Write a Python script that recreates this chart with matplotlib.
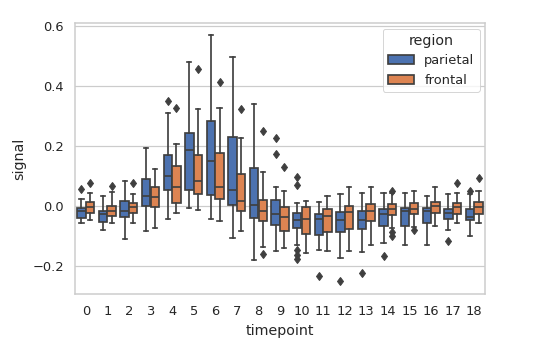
import matplotlib
matplotlib.use("Agg")
import matplotlib.pyplot as plt
from matplotlib.patches import Patch

timepoints = list(range(19))
regions = ["parietal", "frontal"]

# per-timepoint box stats: (whislo, q1, median, q3, whishi)
parietal_stats = [
    (-0.057, -0.041, -0.015, -0.008, 0.023),
    (-0.080, -0.052, -0.028, -0.015, 0.033),
    (-0.109, -0.035, -0.015, 0.017, 0.083),
    (-0.083, 0.001, 0.033, 0.090, 0.193),
    (-0.043, 0.053, 0.100, 0.171, 0.310),
    (-0.006, 0.053, 0.188, 0.244, 0.480),
    (-0.043, 0.036, 0.149, 0.283, 0.569),
    (-0.105, 0.003, 0.053, 0.230, 0.497),
    (-0.179, -0.039, 0.003, 0.128, 0.340),
    (-0.149, -0.063, -0.028, 0.020, 0.062),
    (-0.129, -0.072, -0.046, -0.024, 0.011),
    (-0.146, -0.096, -0.044, -0.028, 0.014),
    (-0.173, -0.088, -0.046, -0.021, 0.039),
    (-0.154, -0.075, -0.046, -0.017, 0.045),
    (-0.124, -0.066, -0.028, -0.010, 0.045),
    (-0.129, -0.066, -0.015, -0.008, 0.042),
    (-0.129, -0.055, -0.015, -0.008, 0.034),
    (-0.080, -0.043, -0.024, -0.010, 0.039),
    (-0.099, -0.046, -0.035, -0.010, 0.039),
]
frontal_stats = [
    (-0.046, -0.022, -0.004, 0.014, 0.042),
    (-0.055, -0.033, -0.015, 0.000, 0.048),
    (-0.055, -0.024, -0.004, 0.009, 0.039),
    (-0.072, -0.002, 0.031, 0.062, 0.125),
    (-0.024, 0.011, 0.064, 0.134, 0.208),
    (-0.013, 0.039, 0.083, 0.169, 0.322),
    (-0.050, 0.023, 0.062, 0.177, 0.327),
    (-0.083, -0.017, 0.017, 0.108, 0.227),
    (-0.135, -0.050, -0.015, 0.020, 0.112),
    (-0.140, -0.083, -0.038, -0.002, 0.050),
    (-0.157, -0.093, -0.044, -0.004, 0.018),
    (-0.149, -0.087, -0.032, -0.010, 0.034),
    (-0.149, -0.076, -0.021, 0.000, 0.062),
    (-0.129, -0.049, -0.015, 0.006, 0.062),
    (-0.074, -0.030, -0.011, 0.006, 0.042),
    (-0.069, -0.027, -0.010, 0.009, 0.050),
    (-0.065, -0.024, 0.000, 0.014, 0.062),
    (-0.055, -0.027, -0.004, 0.011, 0.042),
    (-0.057, -0.027, -0.002, 0.014, 0.050),
]
parietal_fliers = [
    [0.058], [], [], [], [0.351], [], [], [], [], [0.228, 0.172],
    [0.097, 0.070, -0.146, -0.163, -0.177], [-0.234], [-0.251], [-0.223],
    [-0.168], [], [], [-0.118], [0.050],
]
frontal_fliers = [
    [0.077], [0.066], [0.077], [], [0.327], [0.456], [0.412], [0.322],
    [0.250, -0.160], [0.130], [], [], [], [], [0.051, -0.085, -0.100],
    [-0.080], [], [0.078], [0.092],
]

colors = ["#4C72B0", "#DD8452"]
edge = "#3f3f3f"
text_color = "#262626"
grid_color = "#cccccc"
lw = 1.7

plt.rcParams["font.family"] = "DejaVu Sans"

fig = plt.figure(figsize=(534 / 72, 358 / 72), dpi=72)
ax = fig.add_axes([75 / 534, 1 - 294 / 358, 410 / 534, (294 - 23.3) / 358])

for k, (stats, fliers) in enumerate([(parietal_stats, parietal_fliers),
                                      (frontal_stats, frontal_fliers)]):
    boxes = []
    for s, f in zip(stats, fliers):
        lo, q1, med, q3, hi = s
        boxes.append(dict(whislo=lo, q1=q1, med=med, q3=q3, whishi=hi, fliers=f))
    pos = [t - 0.2 + 0.4 * k for t in timepoints]
    ax.bxp(boxes, positions=pos, widths=0.39, patch_artist=True,
           showcaps=True, manage_ticks=False,
           boxprops=dict(facecolor=colors[k], edgecolor=edge, linewidth=lw),
           medianprops=dict(color=edge, linewidth=lw),
           whiskerprops=dict(color=edge, linewidth=lw),
           capprops=dict(color=edge, linewidth=lw),
           flierprops=dict(marker="d", markerfacecolor=edge, markeredgecolor=edge,
                           markersize=6))

ax.set_xlim(-0.5, 18.5)
ax.set_ylim(-0.293, 0.609)
ax.set_xticks(timepoints)
ax.set_xticklabels([str(t) for t in timepoints])
ax.set_yticks([-0.2, 0.0, 0.2, 0.4, 0.6])
ax.set_yticklabels(["\u22120.2", "0.0", "0.2", "0.4", "0.6"])
ax.tick_params(length=0, labelsize=13, colors=text_color, pad=11)
ax.set_xlabel("timepoint", fontsize=14.3, color=text_color, labelpad=6)
ax.set_ylabel("signal", fontsize=14.3, color=text_color, labelpad=6)
ax.yaxis.grid(True, color=grid_color, linewidth=1.2)
ax.set_axisbelow(True)
for sp in ax.spines.values():
    sp.set_color(grid_color)
    sp.set_linewidth(1.5)

handles = [Patch(facecolor=colors[i], edgecolor=edge, linewidth=lw, label=regions[i])
           for i in range(2)]
leg = ax.legend(handles=handles, title="region", loc="upper right", fontsize=13,
                title_fontsize=14.3, frameon=True, borderaxespad=0.4)
leg.get_frame().set_edgecolor(grid_color)
for t in leg.get_texts():
    t.set_color(text_color)
leg.get_title().set_color(text_color)

fig.savefig("out.png", dpi=72)
